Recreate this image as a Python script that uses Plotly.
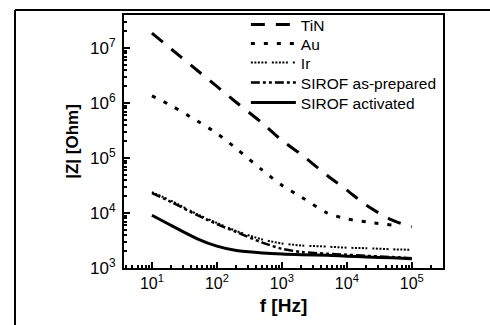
import plotly.graph_objects as go

# Frequencies [Hz]
freq = [10, 20, 50, 100, 200, 500, 1000, 2000, 5000, 1e4, 2e4, 5e4, 1e5]

# |Z| [Ohm]
z_tin = [1.86e7, 9.5e6, 3.9e6, 2.0e6, 1.02e6, 4.3e5, 2.1e5, 1.15e5, 4.8e4, 2.6e4, 1.38e4, 7.4e3, 5.6e3]
z_au = [1.35e6, 8.9e5, 4.7e5, 2.8e5, 1.48e5, 6.0e4, 3.2e4, 1.95e4, 1.0e4, 7.8e3, 6.9e3, 6.0e3]
z_ir = [2.4e4, 1.66e4, 9.5e3, 6.6e3, 4.7e3, 3.3e3, 2.8e3, 2.57e3, 2.45e3, 2.34e3, 2.29e3, 2.19e3, 2.14e3]
z_sirof_prep = [2.3e4, 1.58e4, 9.1e3, 6.3e3, 4.5e3, 2.9e3, 2.24e3, 1.95e3, 1.82e3, 1.74e3, 1.66e3, 1.58e3, 1.51e3]
z_sirof_act = [9.1e3, 5.9e3, 3.4e3, 2.5e3, 2.08e3, 1.88e3, 1.79e3, 1.74e3, 1.70e3, 1.64e3, 1.59e3, 1.53e3, 1.48e3]

names = ["TiN", "Au", "Ir", "SIROF as-prepared", "SIROF activated"]

x_tickvals = [10, 100, 1000, 10000, 100000]
x_ticktext = ["10<sup>1</sup>", "10<sup>2</sup>", "10<sup>3</sup>", "10<sup>4</sup>", "10<sup>5</sup>"]
y_tickvals = [1e3, 1e4, 1e5, 1e6, 1e7]
y_ticktext = ["10<sup>3</sup>", "10<sup>4</sup>", "10<sup>5</sup>", "10<sup>6</sup>", "10<sup>7</sup>"]

x_minor = [m * 10 ** e for e in range(0, 6) for m in range(2, 10)]
y_minor = [m * 10 ** e for e in range(3, 8) for m in range(2, 10)]

fig = go.Figure()
fig.add_trace(go.Scatter(x=freq, y=z_tin, name=names[0], mode="lines", legend="legend",
                         line=dict(color="black", width=3, dash="14px,11px", shape="spline", smoothing=0.8)))
fig.add_trace(go.Scatter(x=freq[:len(z_au)], y=z_au, name=names[1], mode="lines", legend="legend2",
                         line=dict(color="black", width=3, dash="4px,9px", shape="spline", smoothing=0.8)))
fig.add_trace(go.Scatter(x=freq, y=z_ir, name=names[2], mode="lines", legend="legend3",
                         line=dict(color="black", width=2, shape="spline", smoothing=0.8,
                                   dash="2px,1.5px,2px,1.5px,2px,1.5px,2px,1.5px,2px,5px")))
fig.add_trace(go.Scatter(x=freq, y=z_sirof_prep, name=names[3], mode="lines", legend="legend4",
                         line=dict(color="black", width=2.5, dash="9px,3px,3px,3px,3px,3px",
                                   shape="spline", smoothing=0.8)))
fig.add_trace(go.Scatter(x=freq, y=z_sirof_act, name=names[4], mode="lines", legend="legend5",
                         line=dict(color="black", width=3, shape="spline", smoothing=0.8)))

font_family = "Liberation Sans, Arial, sans-serif"


def leg(y):
    return dict(x=0.382, y=y, xanchor="left", yanchor="top",
                bgcolor="rgba(0,0,0,0)", borderwidth=0,
                font=dict(size=15.5), itemwidth=45)


fig.update_layout(
    width=490, height=325,
    margin=dict(l=124, r=47, t=15, b=57, autoexpand=False),
    paper_bgcolor="white", plot_bgcolor="white",
    font=dict(family=font_family, color="black", size=15),
    showlegend=True,
    legend=leg(1.0277),
    legend2=leg(0.9526),
    legend3=leg(0.8775),
    legend4=leg(0.7984),
    legend5=leg(0.7194),
    xaxis=dict(type="log", range=[0.57, 5.48],
               tickmode="array", tickvals=x_tickvals, ticktext=x_ticktext,
               ticks="inside", ticklen=6, tickwidth=2, tickcolor="black",
               minor=dict(tickmode="array", tickvals=x_minor, ticks="inside",
                          ticklen=3, tickwidth=1.5, tickcolor="black", showgrid=False),
               showline=True, linecolor="black", linewidth=2, mirror=True,
               showgrid=False, zeroline=False,
               tickfont=dict(size=16),
               title=dict(text="<b>f [Hz]</b>", font=dict(size=19), standoff=7)),
    yaxis=dict(type="log", range=[3, 7.6],
               tickmode="array", tickvals=y_tickvals, ticktext=y_ticktext,
               ticks="inside", ticklen=6, tickwidth=2, tickcolor="black",
               ticklabelstandoff=3,
               minor=dict(tickmode="array", tickvals=y_minor, ticks="inside",
                          ticklen=3, tickwidth=1.5, tickcolor="black", showgrid=False),
               showline=True, linecolor="black", linewidth=2, mirror=True,
               showgrid=False, zeroline=False,
               tickfont=dict(size=17),
               title=dict(text="<b>|Z| [Ohm]</b>", font=dict(size=17), standoff=7)),
    shapes=[
        dict(type="line", xref="paper", yref="paper", x0=-0.3417, x1=-0.3417, y0=-0.4, y1=1.0198,
             line=dict(color="black", width=2)),
        dict(type="line", xref="paper", yref="paper", x0=-0.3417, x1=1.3, y0=1.0198, y1=1.0198,
             line=dict(color="black", width=2)),
    ],
)

fig.write_html("out.html", config={"displayModeBar": False},
               post_script="document.body.style.margin='0';")
